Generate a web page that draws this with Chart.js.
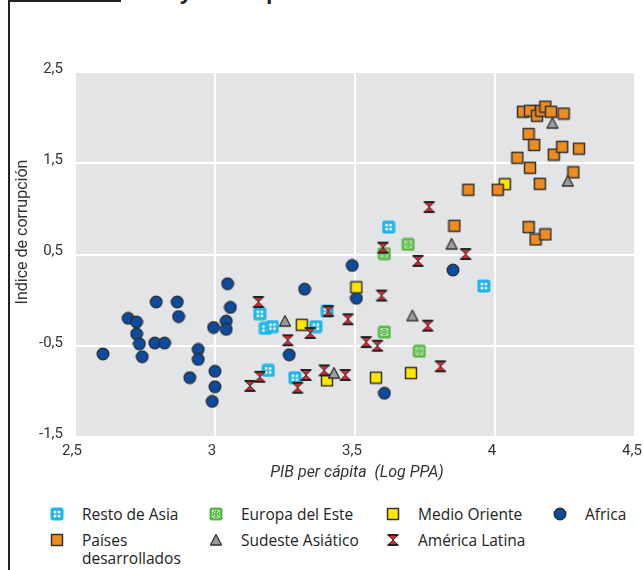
<!DOCTYPE html>
<html>
<head>
<meta charset="utf-8">
<script src="https://cdn.jsdelivr.net/npm/chart.js@4"></script>
<style>
  body { margin: 0; background: #fff; width: 643px; height: 570px; position: relative; overflow: hidden; font-family: "Open Sans", sans-serif; }
  #chart { position: absolute; left: 0; top: 0; }
  .frame-l { position: absolute; left: 8px; top: 0; width: 1.5px; height: 570px; background: #222; }
  .frame-t { position: absolute; left: 8px; top: 0; width: 113px; height: 1.5px; background: #222; }
  .cut { position: absolute; top: -23px; font: bold 21px "Open Sans", sans-serif; color: #222; }
  .leg { position: absolute; font-size: 15.5px; color: #222; line-height: 18px; }
  .mk { position: absolute; }
</style>
</head>
<body>
<div class="frame-l"></div>
<div class="frame-t"></div>
<div class="cut" style="left:180px">y</div>
<div class="cut" style="left:266px">p</div>
<canvas id="chart" width="643" height="481"></canvas>
<div id="legend"></div>
<script>
// Series: [log GDP per capita, corruption index]
const seriesNames = ['Resto de Asia', 'Europa del Este', 'Medio Oriente', 'Africa',
                     'Países\ndesarrollados', 'Sudeste Asiático', 'América Latina'];

const restoAsia = [[3.16, -0.15], [3.18, -0.31], [3.205, -0.29], [3.36, -0.29], [3.40, -0.12],
                   [3.19, -0.77], [3.285, -0.85], [3.62, 0.80], [3.96, 0.155]];
const europaEste = [[3.69, 0.61], [3.605, 0.51], [3.605, -0.35], [3.73, -0.56]];
const medioOriente = [[3.31, -0.27], [3.40, -0.88], [3.505, 0.14], [3.575, -0.85], [3.70, -0.80], [4.035, 1.27]];
const africa = [[2.60, -0.59], [2.69, -0.20], [2.72, -0.24], [2.79, -0.02], [2.865, -0.02], [2.87, -0.18],
                [2.72, -0.37], [2.73, -0.48], [2.74, -0.62], [2.785, -0.47], [2.82, -0.47], [2.94, -0.54],
                [2.94, -0.65], [2.91, -0.85], [3.00, -0.78], [3.00, -0.95], [2.99, -1.11], [2.995, -0.30],
                [3.04, -0.23], [3.04, -0.32], [3.055, -0.08], [3.045, 0.18], [3.32, 0.12], [3.265, -0.60],
                [3.49, 0.38], [3.505, 0.02], [3.85, 0.33], [3.605, -1.02]];
const paises = [[3.905, 1.21], [4.01, 1.21], [3.855, 0.815], [4.12, 0.80], [4.145, 0.665], [4.18, 0.72],
                [4.08, 1.56], [4.125, 1.45], [4.16, 1.275], [4.12, 1.82], [4.14, 1.70], [4.21, 1.595],
                [4.24, 1.68], [4.30, 1.66], [4.28, 1.40], [4.10, 2.065], [4.125, 2.075], [4.15, 2.02],
                [4.165, 2.075], [4.18, 2.12], [4.20, 2.065], [4.245, 2.045]];
const sudeste = [[3.25, -0.23], [3.425, -0.80], [3.705, -0.17], [3.845, 0.615], [4.205, 1.94], [4.26, 1.305]];
const latina = [[3.155, -0.02], [3.26, -0.44], [3.34, -0.36], [3.405, -0.12], [3.475, -0.21], [3.16, -0.84],
                [3.125, -0.94], [3.295, -0.96], [3.325, -0.82], [3.39, -0.77], [3.465, -0.82], [3.54, -0.46],
                [3.58, -0.50], [3.595, 0.05], [3.725, 0.43], [3.60, 0.575], [3.895, 0.505], [3.76, -0.28],
                [3.805, -0.725], [3.765, 1.02]];

const xTickValues = [2.5, 3, 3.5, 4, 4.5];
const yTickValues = [-1.5, -0.5, 0.5, 1.5, 2.5];

const fmt = v => String(v).replace('.', ',');

// marker drawing
function marker(kind) {
    const c = document.createElement('canvas');
    c.width = 14; c.height = 14;
    const g = c.getContext('2d');
    g.lineJoin = 'round';
    if (kind === 'asia' || kind === 'europa') {
        g.fillStyle = kind === 'asia' ? '#1db5ec' : '#5bba4a';
        g.beginPath(); g.roundRect(0.5, 0.5, 13, 13, 2.5); g.fill();
        g.fillStyle = '#fff'; g.strokeStyle = '#fff';
        if (kind === 'asia') {
            [[3.8, 3.8], [7.8, 3.8], [3.8, 7.8], [7.8, 7.8]].forEach(p => g.fillRect(p[0], p[1], 2.5, 2.5));
        } else {
            g.lineWidth = 1;
            g.setLineDash([1.2, 1.2]);
            g.strokeRect(3.5, 3.5, 7, 7);
            g.setLineDash([]);
            g.beginPath();
            g.moveTo(4.5, 4.5); g.lineTo(6.2, 6.2); g.moveTo(9.5, 4.5); g.lineTo(7.8, 6.2);
            g.moveTo(4.5, 9.5); g.lineTo(6.2, 7.8); g.moveTo(9.5, 9.5); g.lineTo(7.8, 7.8);
            g.stroke();
        }
    } else if (kind === 'medio' || kind === 'paises') {
        g.fillStyle = kind === 'medio' ? '#ffe600' : '#ef8c1f';
        g.strokeStyle = '#333'; g.lineWidth = 1.5;
        g.fillRect(1.5, 1.5, 11, 11); g.strokeRect(1.5, 1.5, 11, 11);
    } else if (kind === 'africa') {
        g.fillStyle = '#0c4b9d'; g.strokeStyle = '#2a2a2a'; g.lineWidth = 1.2;
        g.beginPath(); g.arc(7, 7, 5.9, 0, Math.PI * 2); g.fill(); g.stroke();
    } else if (kind === 'sudeste') {
        g.fillStyle = '#9b9c9e'; g.strokeStyle = '#333'; g.lineWidth = 1.3;
        g.beginPath(); g.moveTo(7, 1.5); g.lineTo(12.5, 12); g.lineTo(1.5, 12); g.closePath();
        g.fill(); g.stroke();
    } else if (kind === 'latina') {
        g.fillStyle = '#e2222b'; g.strokeStyle = '#333'; g.lineWidth = 1;
        g.beginPath(); g.moveTo(2.2, 2.5); g.lineTo(11.8, 2.5); g.lineTo(7, 7); g.closePath(); g.fill(); g.stroke();
        g.beginPath(); g.moveTo(7, 7); g.lineTo(11.8, 11.5); g.lineTo(2.2, 11.5); g.closePath(); g.fill(); g.stroke();
        g.fillStyle = '#222';
        g.fillRect(1.5, 1, 11, 1.8); g.fillRect(1.5, 11.2, 11, 1.8);
    }
    return c;
}

const kinds = ['asia', 'europa', 'medio', 'africa', 'paises', 'sudeste', 'latina'];
const seriesData = [restoAsia, europaEste, medioOriente, africa, paises, sudeste, latina];
// lower order is drawn on top
const drawOrder = [4, 5, 3, 6, 2, 1, 0];

const datasets = seriesData.map((d, i) => ({
    label: seriesNames[i],
    data: d.map(p => ({ x: p[0], y: p[1] })),
    pointStyle: marker(kinds[i]),
    pointRadius: 6,
    order: drawOrder[i]
}));

const plotBg = {
    id: 'plotBg',
    beforeDraw(chart) {
        const { ctx, chartArea: a } = chart;
        ctx.save();
        ctx.fillStyle = '#e3e4e6';
        ctx.fillRect(a.left, a.top, a.right - a.left, a.bottom - a.top);
        ctx.restore();
    }
};

const axisTitles = {
    id: 'axisTitles',
    afterDraw(chart) {
        const ctx = chart.ctx;
        ctx.save();
        ctx.fillStyle = '#333';
        ctx.textAlign = 'center';
        ctx.textBaseline = 'middle';
        ctx.font = 'italic 16px Roboto';
        ctx.fillText('PIB per cápita  (Log PPA)', 357, 473);
        ctx.translate(23, 232);
        ctx.rotate(-Math.PI / 2);
        ctx.font = '16px Roboto';
        ctx.fillText('Indice de corrupción', 0, 0);
        ctx.restore();
    }
};

new Chart(document.getElementById('chart'), {
    type: 'scatter',
    data: { datasets },
    options: {
        responsive: false,
        animation: false,
        devicePixelRatio: 1,
        layout: { padding: { top: 72, right: 8, bottom: 0, left: 0 } },
        plugins: { legend: { display: false }, tooltip: { enabled: false } },
        scales: {
            x: {
                type: 'linear', min: 2.5, max: 4.5,
                afterBuildTicks: s => { s.ticks = xTickValues.map(v => ({ value: v })); },
                afterFit: s => { s.height = 44; s.paddingLeft = 0; s.paddingRight = 0; },
                grid: { color: '#fff', lineWidth: 2, drawTicks: false },
                border: { display: false },
                ticks: { padding: 5, labelOffset: -3, color: '#333', font: { family: 'Roboto', size: 15 }, callback: fmt }
            },
            y: {
                type: 'linear', min: -1.5, max: 2.5,
                afterBuildTicks: s => { s.ticks = yTickValues.map(v => ({ value: v })); },
                afterFit: s => { s.width = 75; s.paddingTop = 0; s.paddingBottom = 0; },
                grid: { color: '#fff', lineWidth: 2, drawTicks: false },
                border: { display: false },
                ticks: { padding: 12, labelOffset: -3, color: '#333', font: { family: 'Roboto', size: 15 }, callback: fmt }
            }
        }
    },
    plugins: [plotBg, axisTitles]
});

// HTML legend (4 columns, two rows)
const legCols = [57, 216, 393, 560];
const legRows = [514, 540];
const legend = document.getElementById('legend');
seriesNames.forEach((name, i) => {
    const cx = legCols[i % 4], cy = legRows[Math.floor(i / 4)];
    const m = marker(kinds[i]);
    m.className = 'mk';
    m.style.left = (cx - 7) + 'px';
    m.style.top = (cy - 7) + 'px';
    legend.appendChild(m);
    const t = document.createElement('div');
    t.className = 'leg';
    t.style.left = (cx + 25) + 'px';
    t.style.top = (cy - 9) + 'px';
    t.innerHTML = name.replace('\n', '<br>');
    legend.appendChild(t);
});
</script>
</body>
</html>
